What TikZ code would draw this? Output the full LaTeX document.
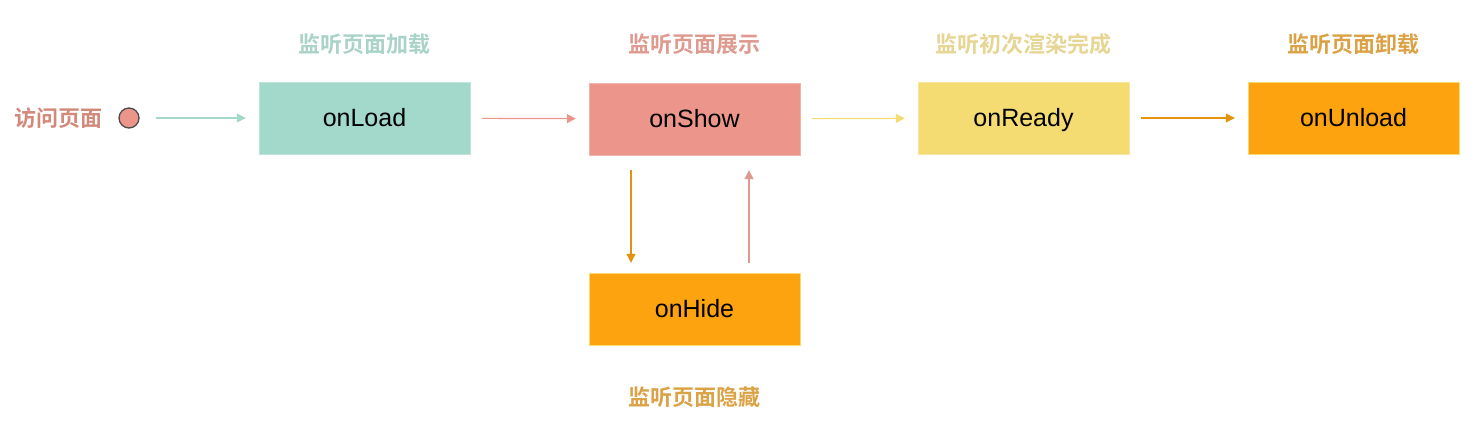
\documentclass[tikz,border=0pt]{standalone}
\usepackage{fontspec}
\setmainfont{Liberation Sans}
\newfontfamily\cjk{Noto Sans CJK SC}[BoldFont={Noto Sans CJK SC Bold}]
\usepackage{xcolor}
\usetikzlibrary{arrows.meta}

\definecolor{loadc}{HTML}{A3D9CB}
\definecolor{showc}{HTML}{EC958A}
\definecolor{readyc}{HTML}{F5DC72}
\definecolor{unloadc}{HTML}{FCA30F}
\definecolor{loadt}{HTML}{A9D3C8}
\definecolor{showt}{HTML}{DF9A8F}
\definecolor{readyt}{HTML}{E6D593}
\definecolor{unloadt}{HTML}{DBA245}
\definecolor{visitt}{HTML}{D3897A}

\begin{document}
\begin{tikzpicture}[x=1pt,y=-1pt,
  box/.style={minimum width=211pt,minimum height=72pt,inner sep=0pt,text height=20pt,text depth=3pt,font=\fontsize{25}{28}\selectfont},
  tag/.style={font=\cjk\bfseries\fontsize{22}{24}\selectfont},
  link/.style={-{Triangle[length=9pt,width=9pt]},line width=1.2pt,shorten <=12pt,shorten >=13pt}]
\useasboundingbox (0,0) rectangle (1480,435);
\node[tag,text=visitt]	(V) at (58,118)		{访问页面};
  \node[circle,draw=black!70,fill=showc,line width=1.3pt,minimum size=20pt,inner sep=0pt] (S) at (129,118) {};

  \node[box,fill=loadc,draw=loadc!70!white]		(L) at (364.5,118)	{onLoad};
  \node[box,fill=showc,draw=showc!70!white]		(W) at (694.5,119)	{onShow};
  \node[box,fill=readyc,draw=readyc!70!white]	(R) at (1023.5,118)	{onReady};
  \node[box,fill=unloadc,draw=readyc]		(U) at (1353.5,118)	{onUnload};
  \node[box,fill=unloadc,draw=readyc]		(H) at (694.5,309)	{onHide};

\node[tag,text=loadt]	(NL) at (364.5,44)	{监听页面加载};
\node[tag,text=showt]	(NW) at (694.5,44)	{监听页面展示};
\node[tag,text=readyt]	(NR) at (1023.5,44)	{监听初次渲染完成};
\node[tag,text=unloadt]	(NU) at (1353.5,44)	{监听页面卸载};
\node[tag,text=unloadt]	(NH) at (694.5,397)	{监听页面隐藏};

  \path[link,loadc,shorten <=16pt]
		(S) edge              node {} (L);
  \path[link,showc]
		(L) edge              node {} (W);
  \path[link,readyc]
		(W) edge              node {} (R);
  \path[link,unloadc!90!black]
		(R) edge              node {} (U);

  \path[link,unloadc!90!black,shorten <=15pt,shorten >=10pt]
		([xshift=-63.5pt]W.south) edge  node {} ([xshift=-63.5pt]H.north);
  \path[link,showt,shorten <=10pt,shorten >=15pt]
		([xshift=54.5pt]H.north) edge   node {} ([xshift=54.5pt]W.south);
\end{tikzpicture}
\end{document}
